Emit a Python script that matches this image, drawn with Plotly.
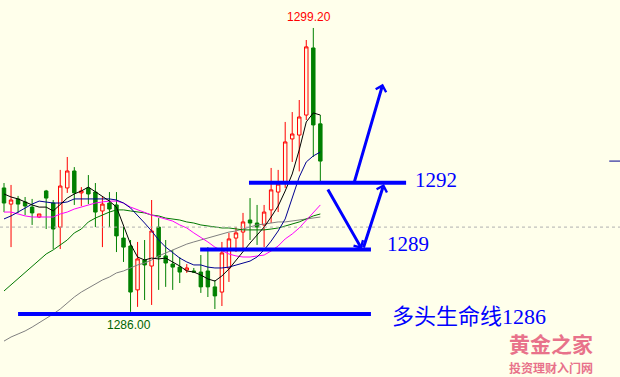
import plotly.graph_objects as go

# ---- data ----
idx = list(range(46))
opens = [1291.76, 1291.01, 1291.25, 1291.11, 1290.87, 1290.41, 1291.62, 1291.06, 1289.94, 1291.76,
         1292.55, 1291.53, 1291.76, 1291.57, 1290.69, 1291.06, 1290.97, 1289.43, 1289.06, 1287.02,
         1288.41, 1288.13, 1289.94, 1288.60, 1288.22, 1288.08, 1287.94, 1287.90, 1287.85, 1287.90,
         1287.16, 1286.92, 1288.04, 1289.43, 1289.71, 1290.27, 1290.13, 1290.04, 1290.74, 1291.57,
         1292.04, 1294.04, 1294.22, 1295.15, 1298.27, 1294.74]
highs = [1291.99, 1291.90, 1291.39, 1291.34, 1291.25, 1290.55, 1291.67, 1291.20, 1292.60, 1293.20,
         1292.73, 1291.80, 1292.36, 1291.99, 1291.34, 1291.57, 1291.57, 1289.94, 1289.34, 1289.25,
         1289.34, 1291.20, 1290.36, 1289.34, 1288.88, 1288.55, 1288.22, 1288.04, 1288.64, 1289.01,
         1287.48, 1289.25, 1289.67, 1289.94, 1290.60, 1291.29, 1290.97, 1290.97, 1292.69, 1292.60,
         1294.83, 1295.29, 1295.85, 1298.64, 1299.20, 1295.15]
lows = [1290.64, 1289.01, 1290.60, 1290.50, 1290.04, 1290.36, 1289.85, 1288.92, 1288.92, 1291.53,
        1290.97, 1290.92, 1291.01, 1289.94, 1289.01, 1289.94, 1288.78, 1288.32, 1286.00, 1286.23,
        1286.55, 1286.32, 1287.02, 1287.16, 1287.02, 1287.34, 1287.81, 1287.81, 1286.88, 1286.69,
        1286.13, 1286.27, 1287.39, 1288.78, 1288.88, 1289.34, 1289.11, 1289.01, 1290.13, 1290.64,
        1291.76, 1292.97, 1292.53, 1294.92, 1293.20, 1292.04]
closes = [1291.06, 1291.20, 1291.01, 1290.92, 1290.60, 1290.55, 1291.29, 1289.85, 1291.85, 1292.55,
          1291.53, 1291.62, 1291.48, 1290.64, 1291.01, 1290.78, 1289.53, 1289.01, 1286.92, 1288.46,
          1288.18, 1289.76, 1288.55, 1288.27, 1288.08, 1287.85, 1288.04, 1287.85, 1287.16, 1287.16,
          1286.74, 1288.74, 1289.39, 1289.67, 1290.18, 1290.13, 1289.94, 1290.64, 1291.67, 1291.94,
          1293.90, 1294.27, 1295.06, 1298.32, 1294.69, 1293.01]

ma_black = [1291.48, 1291.34, 1291.25, 1291.11, 1290.97, 1290.87, 1290.87, 1290.69, 1290.97, 1291.29,
            1291.48, 1291.62, 1291.80, 1291.57, 1291.34, 1291.15, 1290.87, 1289.99, 1289.15, 1288.55,
            1288.41, 1288.50, 1288.46, 1288.50, 1288.32, 1288.13, 1287.90, 1287.85, 1287.71, 1287.53,
            1287.43, 1287.67, 1287.99, 1288.41, 1288.83, 1289.20, 1289.57, 1289.94, 1290.41, 1290.92,
            1291.62, 1292.41, 1293.53, 1294.83, 1295.25, 1295.15]
ma_blue = [1290.32, 1290.46, 1290.64, 1290.83, 1291.01, 1291.15, 1291.11, 1291.06, 1291.06, 1291.11,
           1291.25, 1291.25, 1291.25, 1291.25, 1291.25, 1291.25, 1291.20, 1291.06, 1290.83, 1290.50,
           1290.13, 1289.76, 1289.34, 1289.01, 1288.74, 1288.50, 1288.32, 1288.18, 1288.18, 1288.08,
           1288.04, 1288.04, 1288.08, 1288.18, 1288.27, 1288.36, 1288.55, 1288.88, 1289.29, 1289.76,
           1290.32, 1291.34, 1292.27, 1292.97, 1293.25, 1293.43]
ma_magenta = [1290.64, 1290.64, 1290.55, 1290.46, 1290.41, 1290.41, 1290.41, 1290.41, 1290.55, 1290.64,
              1290.78, 1290.87, 1290.97, 1291.06, 1291.11, 1291.15, 1291.15, 1291.06, 1290.87, 1290.74,
              1290.60, 1290.50, 1290.41, 1290.32, 1290.22, 1290.04, 1289.90, 1289.67, 1289.48, 1289.25,
              1289.01, 1288.83, 1288.69, 1288.60, 1288.55, 1288.55, 1288.60, 1288.64, 1288.83, 1289.06,
              1289.39, 1289.62, 1289.90, 1290.27, 1290.64, 1290.97]
ma_green = [1286.97, 1287.25, 1287.53, 1287.81, 1288.13, 1288.41, 1288.69, 1288.88, 1289.11, 1289.34,
            1289.67, 1289.85, 1290.18, 1290.36, 1290.50, 1290.64, 1290.74, 1290.74, 1290.69, 1290.64,
            1290.60, 1290.50, 1290.46, 1290.36, 1290.32, 1290.27, 1290.18, 1290.13, 1290.04, 1289.99,
            1289.94, 1289.90, 1289.90, 1289.85, 1289.81, 1289.81, 1289.81, 1289.81, 1289.85, 1289.90,
            1289.99, 1290.08, 1290.18, 1290.32, 1290.46, 1290.55]
ma_gray = [1284.64, 1284.83, 1284.97, 1285.11, 1285.29, 1285.48, 1285.67, 1285.90, 1286.13, 1286.41,
           1286.69, 1286.92, 1287.11, 1287.29, 1287.48, 1287.62, 1287.81, 1287.90, 1288.04, 1288.18,
           1288.27, 1288.41, 1288.60, 1288.74, 1288.88, 1289.01, 1289.15, 1289.25, 1289.34, 1289.43,
           1289.53, 1289.62, 1289.71, 1289.76, 1289.85, 1289.94, 1290.04, 1290.08, 1290.13, 1290.18,
           1290.18, 1290.22, 1290.27, 1290.32, 1290.36, 1290.41]

levels = [1292.0, 1288.9, 1285.9]          # support / resistance lines
level_labels = ["1292", "1289", "多头生命线1286"]
ref_level = 1289.94                          # dotted grey line
high_label = "1299.20"
low_label = "1286.00"
watermark = ["黄金之家", "投资理财入门网"]

BG = "#FFFFEB"
BLUE = "#0000FF"

fig = go.Figure()

fig.add_trace(go.Candlestick(
    x=idx, open=opens, high=highs, low=lows, close=closes,
    increasing=dict(line=dict(color="#FF0000", width=1), fillcolor=BG),
    decreasing=dict(line=dict(color="#008000", width=1), fillcolor="#008000"),
    whiskerwidth=0, hoverinfo="skip", showlegend=False,
))

for ys, col in [(ma_gray, "#808080"), (ma_green, "#007800"), (ma_magenta, "#FF00FF"),
                (ma_blue, "#000090"), (ma_black, "#000000")]:
    fig.add_trace(go.Scatter(x=idx, y=ys, mode="lines", line=dict(color=col, width=1),
                             hoverinfo="skip", showlegend=False))

X0, X1 = -0.57, 87.63
# dotted reference line
fig.add_shape(type="line", x0=X0, x1=X1, y0=ref_level, y1=ref_level,
              line=dict(color="#B0B0B0", width=1, dash="dot"))
# current price tick at right edge
fig.add_shape(type="line", x0=86.1, x1=X1, y0=closes[-1], y1=closes[-1],
              line=dict(color="#000090", width=1))

# thick blue level lines
spans = [(34.85, 57.2), (27.9, 52.2), (2.0, 52.2)]
for lv, (a, b) in zip(levels, spans):
    fig.add_shape(type="line", x0=a, x1=b, y0=lv, y1=lv, line=dict(color=BLUE, width=4))

# arrows (tip x,y ; tail ax,ay)
arrows = [(53.9, 1296.6, 49.8, 1292.0), (50.9, 1288.92, 45.95, 1291.76), (54.05, 1291.94, 51.07, 1288.92)]
for x, y, ax, ay in arrows:
    fig.add_annotation(x=x, y=y, ax=ax, ay=ay, xref="x", yref="y", axref="x", ayref="y",
                       text="", showarrow=True, arrowhead=4, arrowsize=0.7, arrowwidth=3,
                       arrowcolor=BLUE)

serif = "Liberation Serif, Noto Sans CJK SC, serif"
for lab, (px, py), sz in zip(level_labels, [(413, 180), (385, 244), (390, 316)], [21, 21, 22]):
    fig.add_annotation(x=px / 620, y=1 - py / 377, xref="paper", yref="paper", text=lab,
                       showarrow=False, xanchor="left", yanchor="middle",
                       font=dict(family=serif, size=sz, color=BLUE))

fig.add_annotation(x=44, y=highs[44], xref="x", yref="y", text=high_label, showarrow=False,
                   xanchor="center", yanchor="bottom", xshift=-4, yshift=2,
                   font=dict(family="Liberation Sans, Arial", size=12, color="#FF0000"))
fig.add_annotation(x=18, y=lows[18], xref="x", yref="y", text=low_label, showarrow=False,
                   xanchor="center", yanchor="top", xshift=-2, yshift=-4,
                   font=dict(family="Liberation Sans, Arial", size=12, color="#006400"))

# watermark
fig.add_annotation(x=551 / 620, y=1 - 343 / 377, xref="paper", yref="paper",
                   text="<b>" + watermark[0] + "</b>", showarrow=False,
                   xanchor="center", yanchor="middle", borderpad=0,
                   font=dict(family="Noto Sans CJK SC", size=21, color="#E8728A"))
fig.add_annotation(x=551 / 620, y=1 - 367 / 377, xref="paper", yref="paper",
                   text="<b>" + watermark[1] + "</b>", showarrow=False,
                   xanchor="center", yanchor="middle", borderpad=0,
                   font=dict(family="Noto Sans CJK SC", size=12, color="#E8728A"))

fig.update_layout(
    width=620, height=377, autosize=False,
    margin=dict(l=0, r=0, t=0, b=0, pad=0),
    paper_bgcolor=BG, plot_bgcolor=BG,
    xaxis=dict(range=[X0, X1], visible=False, rangeslider=dict(visible=False), fixedrange=True),
    yaxis=dict(range=[1282.97, 1300.5], visible=False, fixedrange=True),
    showlegend=False,
)

fig.write_html("out.html")
